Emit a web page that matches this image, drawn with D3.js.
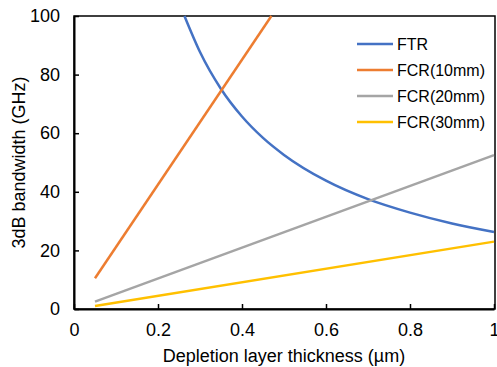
<!DOCTYPE html>
<html>
<head>
<meta charset="utf-8">
<script src="https://cdn.jsdelivr.net/npm/d3@7"></script>
<style>
  body { margin: 0; background: #fff; }
  text { font-family: Arial, "Liberation Sans", sans-serif; fill: #000; }
</style>
</head>
<body>
<div id="chart"></div>
<script>
var width = 497
var height = 367

// values
const ftrX = [0.263, 0.3, 0.35, 0.4, 0.45, 0.5, 0.6, 0.7, 0.8, 0.9, 1.0]
const ftrY = [100, 87.7, 75.1, 65.7, 58.4, 52.6, 43.8, 37.5, 32.9, 29.2, 26.3]
const fcr10X = [0.05, 0.47]
const fcr10Y = [10.5, 100]
const fcr20X = [0.05, 1.0]
const fcr20Y = [2.5, 52.5]
const fcr30X = [0.05, 1.0]
const fcr30Y = [1.0, 23]
const seriesNames = ["FTR", "FCR(10mm)", "FCR(20mm)", "FCR(30mm)"]
const colors = ["#4472C4", "#ED7D31", "#A5A5A5", "#FFC000"]
const xTicks = [0, 0.2, 0.4, 0.6, 0.8, 1]
const yTicks = [0, 20, 40, 60, 80, 100]

const margin = {top: 16, right: 3, bottom: 58, left: 74}
const innerWidth = 494 - margin.left
const innerHeight = 309 - margin.top

const svg = d3.select("#chart").append("svg")
    .attr("width", width)
    .attr("height", height)

const g = svg.append("g")
    .attr("transform", `translate(${margin.left}, ${margin.top})`)

const xScale = d3.scaleLinear().domain([0, 1]).range([0, innerWidth])
const yScale = d3.scaleLinear().domain([0, 100]).range([innerHeight, 0])

// frame
g.append("rect")
    .attr("x", 0).attr("y", 0)
    .attr("width", innerWidth + 1).attr("height", innerHeight)
    .attr("fill", "none")
    .attr("stroke", "#000")
    .attr("stroke-width", 1.5)

const xAxis = d3.axisBottom(xScale)
    .tickValues(xTicks)
    .tickSizeInner(-5).tickSizeOuter(0)
    .tickPadding(14)
    .tickFormat(d => d === 0 || d === 1 ? d3.format("d")(d) : d3.format(".1f")(d))

const yAxis = d3.axisLeft(yScale)
    .tickValues(yTicks)
    .tickSizeInner(-5).tickSizeOuter(0)
    .tickPadding(14)

const xAxisG = g.append("g").attr("transform", `translate(0, ${innerHeight})`).call(xAxis)
const yAxisG = g.append("g").call(yAxis)

;[xAxisG, yAxisG].forEach(a => {
  a.attr("font-size", null).attr("font-family", null)
  a.select(".domain").attr("stroke", "#000").attr("stroke-width", 2)
  a.selectAll(".tick line").attr("stroke", "#000").attr("stroke-width", 1.5)
  a.selectAll(".tick text").style("font-size", "18px")
})

svg.append("text")
    .attr("x", margin.left + innerWidth / 2)
    .attr("y", 362)
    .attr("text-anchor", "middle")
    .style("font-size", "18px")
    .text("Depletion layer thickness (\u00b5m)")

svg.append("text")
    .attr("transform", `translate(25, ${margin.top + innerHeight / 2}) rotate(-90)`)
    .attr("text-anchor", "middle")
    .style("font-size", "18px")
    .text("3dB bandwidth (GHz)")

const series = [
  d3.zip(ftrX, ftrY),
  d3.zip(fcr10X, fcr10Y),
  d3.zip(fcr20X, fcr20Y),
  d3.zip(fcr30X, fcr30Y)
]

const lineGen = d3.line()
    .x(d => xScale(d[0]))
    .y(d => yScale(d[1]))
    .curve(d3.curveMonotoneX)

series.forEach((s, i) => {
  g.append("path")
    .attr("d", lineGen(s))
    .attr("fill", "none")
    .attr("stroke", colors[i])
    .attr("stroke-width", 2.5)
})

const legend = svg.append("g").attr("transform", "translate(357, 44)")
seriesNames.forEach((n, i) => {
  const row = legend.append("g").attr("transform", `translate(0, ${i * 26})`)
  row.append("line")
    .attr("x1", 0).attr("x2", 36)
    .attr("stroke", colors[i]).attr("stroke-width", 2.5)
  row.append("text")
    .attr("x", 40).attr("y", 6)
    .style("font-size", "16px")
    .text(n)
})
</script>
</body>
</html>
